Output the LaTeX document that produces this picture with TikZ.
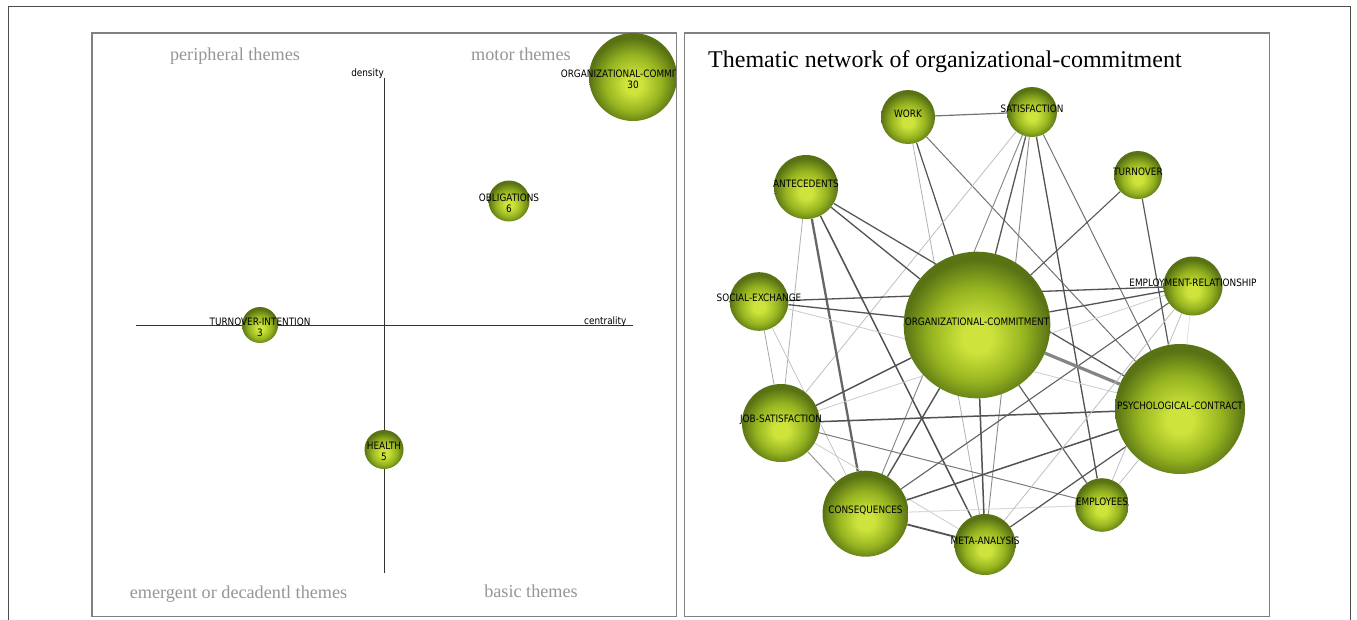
\documentclass[tikz,border=0pt]{standalone}
\usepackage{fontspec}
\setmainfont{Liberation Serif}
\newfontfamily\labfont{DejaVu Sans}[FakeStretch=0.87]
\definecolor{bubHi}{RGB}{206,228,60}
\definecolor{bubMid}{RGB}{150,180,32}
\definecolor{bubEdge}{RGB}{88,114,20}
\definecolor{quadgray}{RGB}{150,150,150}
\pgfdeclareradialshading{bubble}{\pgfpoint{0bp}{-5bp}}{color(0bp)=(bubHi); color(5bp)=(bubHi); color(16bp)=(bubMid); color(25bp)=(bubEdge); color(50bp)=(bubEdge)}
\pgfdeclarelayer{bg}
\pgfdeclarelayer{edges}
\pgfsetlayers{bg,edges,main}
\tikzset{
  bub/.style={circle, inner sep=0pt, minimum size=#1, shade, shading=bubble},
  lab/.style={font=\labfont\fontsize{10.2}{11}\selectfont, text=black, inner sep=0pt},
  quad/.style={font=\fontsize{18.2}{20}\selectfont, text=quadgray, inner sep=0pt, anchor=base},
  panel/.style={draw=black!50, line width=1.1pt},
  frame/.style={draw=black!70, line width=1pt},
  axis/.style={draw=black!80, line width=0.9pt},
  ed/.style 2 args={draw=black!#1, line width=#2pt},
  nl/.style={label={[lab, yshift=3.3pt]center:#1}},
  nl2/.style={label={[lab, align=center, yshift=-2.2pt]center:#1}}
}
\begin{document}
\begin{tikzpicture}[x=1pt,y=-1pt]
\useasboundingbox (0,0) rectangle (1357,619);
\begin{pgfonlayer}{bg}
\fill[white] (0,0) rectangle (1357,619);
\end{pgfonlayer}
% outer frame
\draw[frame] (8,630) -- (8,6) -- (1350,6) -- (1350,630);

% ---------------- left panel: strategic diagram
\draw[panel] (92,33) rectangle (676.5,616.5);
\begin{scope}
\clip (92.6,33.6) rectangle (675.9,615.9);
\coordinate (hx0) at (136,325);
\coordinate (hx1) at (633,325);
\coordinate (vy0) at (384,78);
\coordinate (vy1) at (384,573);
\draw[axis] (hx0) -- (hx1);
\draw[axis] (vy0) -- (vy1);
\node[lab, anchor=base east] (dens) at (384,76.5) {density};
\node[lab, anchor=base west] (cent) at (584,324.5) {centrality};
\node[bub=88pt, nl2={ORGANIZATIONAL-COMMITMENT\\30}] (loc) at (633,77) {};
\node[bub=41pt, nl2={OBLIGATIONS\\6}] (lob) at (509,201) {};
\node[bub=36pt, nl2={TURNOVER-INTENTION\\3}] (lti) at (260,325) {};
\node[bub=39pt, nl2={HEALTH\\5}] (lhe) at (384,449.5) {};
\node[quad] (qp) at (235,60) {peripheral themes};
\node[quad] (qm) at (521,60) {motor themes};
\node[quad] (qe) at (238.5,598) {emergent or decadentl themes};
\node[quad] (qb) at (531,597) {basic themes};
\end{scope}

% ---------------- right panel: thematic network
\draw[panel] (684.5,33) rectangle (1269.5,616.5);
\node[anchor=base west, font=\fontsize{24}{28}\selectfont, inner sep=0pt] (title) at (708,67) {Thematic network of organizational-commitment};

\node[bub=54pt, nl=WORK] (wk) at (908,117) {};
\node[bub=50pt, nl=SATISFACTION] (sat) at (1032,112) {};
\node[bub=48pt, nl=TURNOVER] (turn) at (1138,175) {};
\node[bub=64pt, nl=ANTECEDENTS] (ante) at (806,187) {};
\node[bub=58.6pt, nl=SOCIAL-EXCHANGE] (se) at (759,301.5) {};
\node[bub=59pt, nl=EMPLOYMENT-RELATIONSHIP] (er) at (1193,286) {};
\node[bub=146.6pt, nl=ORGANIZATIONAL-COMMITMENT] (oc) at (977,325) {};
\node[bub=130pt, nl=PSYCHOLOGICAL-CONTRACT] (pc) at (1180,409) {};
\node[bub=78pt, nl=JOB-SATISFACTION] (js) at (781,423) {};
\node[bub=86pt, nl=CONSEQUENCES] (cons) at (865.5,513.7) {};
\node[bub=61pt, nl=META-ANALYSIS] (meta) at (985,544.5) {};
\node[bub=53.6pt, nl=EMPLOYEES] (emp) at (1102,505) {};

\begin{pgfonlayer}{edges}
\draw[ed={55}{1.2}] (wk) -- (sat);
\draw[ed={68}{1.2}] (wk) -- (oc);
\draw[ed={30}{0.8}] (wk) -- (meta);
\draw[ed={55}{1.0}] (wk) -- (pc);
\draw[ed={25}{0.8}] (sat) -- (js);
\draw[ed={48}{0.9}] (sat) -- (cons);
\draw[ed={65}{1.3}] (sat) -- (oc);
\draw[ed={45}{0.9}] (sat) -- (meta);
\draw[ed={68}{1.3}] (sat) -- (emp);
\draw[ed={55}{1.0}] (sat) -- (pc);
\draw[ed={65}{1.1}] (turn) -- (oc);
\draw[ed={65}{1.2}] (turn) -- (pc);
\draw[ed={65}{1.3}] (ante) -- (pc);
\draw[ed={68}{1.3}] (ante) -- (oc);
\draw[ed={60}{2.3}] (ante) -- (cons);
\draw[ed={68}{1.5}] (ante) -- (meta);
\draw[ed={30}{0.8}] (ante) -- (js);
\draw[ed={68}{1.3}] (se) -- (er);
\draw[ed={68}{1.3}] (se) -- (oc);
\draw[ed={20}{0.8}] (se) -- (pc);
\draw[ed={35}{0.8}] (se) -- (js);
\draw[ed={25}{0.7}] (se) -- (cons);
\draw[ed={68}{1.5}] (js) -- (oc);
\draw[ed={20}{0.8}] (js) -- (er);
\draw[ed={68}{1.5}] (js) -- (pc);
\draw[ed={52}{1.0}] (js) -- (emp);
\draw[ed={40}{1.0}] (js) -- (cons);
\draw[ed={20}{0.8}] (js) -- (meta);
\draw[ed={68}{1.4}] (cons) -- (oc);
\draw[ed={62}{1.1}] (cons) -- (er);
\draw[ed={68}{1.5}] (cons) -- (pc);
\draw[ed={15}{1.0}] (cons) -- (emp);
\draw[ed={68}{1.8}] (cons) -- (meta);
\draw[ed={68}{1.5}] (oc) -- (meta);
\draw[ed={68}{1.3}] (oc) -- (er);
\draw[ed={48}{3.2}] (oc) -- (pc);
\draw[ed={62}{1.2}] (oc) -- (emp);
\draw[ed={68}{1.2}] (meta) -- (pc);
\draw[ed={25}{0.8}] (meta) -- (er);
\draw[ed={25}{0.8}] (emp) -- (pc);
\draw[ed={25}{0.8}] (emp) -- (er);
\draw[ed={12}{0.8}] (er) -- (pc);
\end{pgfonlayer}
\end{tikzpicture}
\end{document}
